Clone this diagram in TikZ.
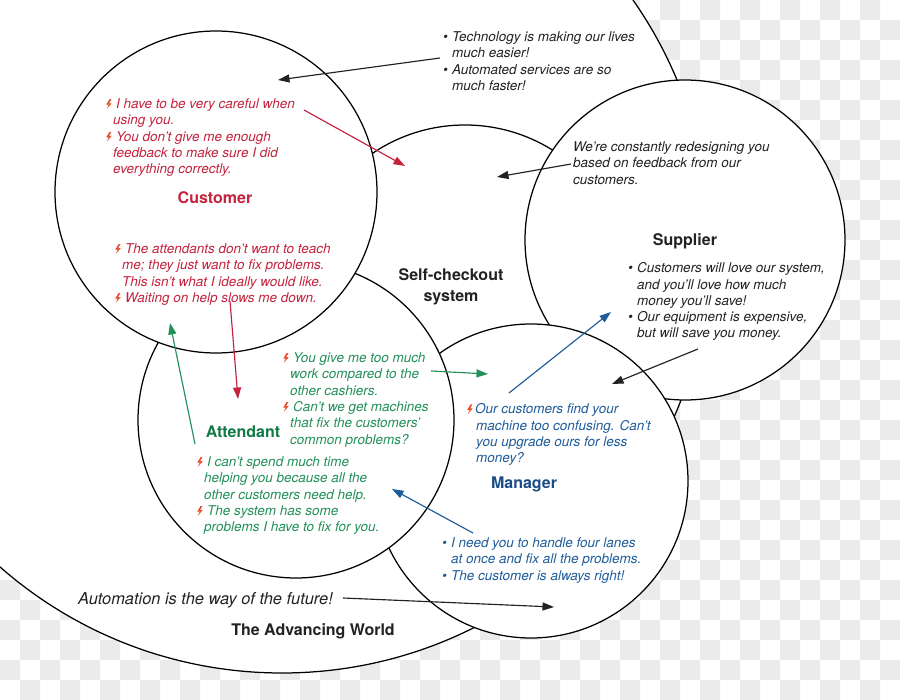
\documentclass[tikz,border=0pt]{standalone}
\usepackage{fontspec}
\setmainfont{TeX Gyre Heros}
\usetikzlibrary{arrows.meta}
\definecolor{custred}{HTML}{C4233D}
\definecolor{attgreen}{HTML}{23905A}
\definecolor{attlbl}{HTML}{117A47}
\definecolor{mgrblue}{HTML}{1F5C9A}
\definecolor{mgrlbl}{HTML}{1C4C87}
\definecolor{ink}{HTML}{222222}
\definecolor{boltcol}{HTML}{EA4E2D}
\definecolor{chk}{HTML}{EBEBEB}
\newcommand{\zapbolt}{\tikz[baseline=0pt,x=1pt,y=1pt]\fill[boltcol] (4.2,9.4) -- (0.8,3.9) -- (3.3,3.9) -- (1.4,-0.4) -- (6.2,5.3) -- (3.7,5.3) -- (6.0,9.4) -- cycle;}
\newcommand{\bz}{\makebox[10pt][l]{\zapbolt}}
\newcommand{\bzt}{\makebox[8pt][l]{\zapbolt}}
\newcommand{\bl}{\makebox[9pt][l]{•}}
\begin{document}
\begin{tikzpicture}[x=1pt,y=-1pt,
  circ/.style={circle, draw=black, fill=white, line width=1.25pt, inner sep=0pt},
  txt/.style={anchor=north west, inner sep=0pt, align=left, font=\fontsize{13.5}{16.3}\selectfont\itshape},
  lbl/.style={anchor=base, inner sep=0pt, font=\fontsize{16}{21}\selectfont\bfseries},
  arr/.style={line width=1.15pt, -{Triangle[length=11.5pt,width=8pt]}}]
\useasboundingbox (0,0) rectangle (900,700);
\fill[white] (0,0) rectangle (900,700);
\fill[chk] \foreach \j in {0,2,...,34} {\foreach \i in {1,3,...,43} {(20*\i,20*\j) rectangle ++(20,20)}};
\fill[chk] \foreach \j in {1,3,...,33} {\foreach \i in {0,2,...,44} {(20*\i,20*\j) rectangle ++(20,20)}};
% circles (back to front)
\node[circ, minimum size=856pt] (world) at (282,245) {};
\node[circ, minimum size=330pt] (self) at (465,290) {};
\node[circ, minimum size=320pt] (supplier) at (685,240) {};
\node[circ, minimum size=314pt] (manager) at (531,481) {};
\node[circ, minimum size=316pt] (attendant) at (296,420) {};
\node[circ, minimum size=322pt] (customer) at (216,192) {};
% labels
\node[lbl, text=custred] (custlbl) at (215,203.5) {Customer};
\node[anchor=north, inner sep=0pt, align=center, font=\fontsize{16}{21}\selectfont\bfseries, text=ink] (selflbl) at (451,268) {Self-checkout\\system};
\node[lbl, text=ink] (supplbl) at (685,245.5) {Supplier};
\node[lbl, text=attlbl] (attlbl) at (243,437.5) {Attendant};
\node[lbl, text=mgrlbl] (mgrlbl) at (524,488.5) {Manager};
\node[lbl, text=ink] (worldlbl) at (313,635.5) {The Advancing World};
% texts
\node[txt, text=ink] (worldbul) at (443,31.5) {\bl Technology is making our lives\\\hspace*{9pt}much easier!\\\bl Automated services are so\\\hspace*{9pt}much faster!};
\node[txt, text=custred] (cust1) at (106,98.5) {\bz I have to be very careful when\\\hspace*{7pt}using you.\\\bz You don't give me enough\\\hspace*{7pt}feedback to make sure I did\\\hspace*{7pt}everything correctly.};
\node[txt, text=custred] (cust2) at (115,243.5) {\bz The attendants don't want to teach\\\hspace*{7pt}me; they just want to fix problems.\\\hspace*{7pt}This isn't what I ideally would like.\\\bz Waiting on help slows me down.};
\node[txt, text=ink] (supp1) at (573,141.5) {We're constantly redesigning you\\based on feedback from our\\customers.};
\node[txt, text=ink] (supp2) at (628,262.5) {\bl Customers will love our system,\\\hspace*{9pt}and you'll love how much\\\hspace*{9pt}money you'll save!\\\bl Our equipment is expensive,\\\hspace*{9pt}but will save you money.};
\node[txt, text=attgreen] (att1) at (283,352.5) {\bz You give me too much\\\hspace*{7pt}work compared to the\\\hspace*{7pt}other cashiers.\\\bz Can't we get machines\\\hspace*{7pt}that fix the customers'\\\hspace*{7pt}common problems?};
\node[txt, text=attgreen] (att2) at (197,456.5) {\bz I can't spend much time\\\hspace*{7pt}helping you because all the\\\hspace*{7pt}other customers need help.\\\bz The system has some\\\hspace*{7pt}problems I have to fix for you.};
\node[txt, text=mgrblue] (mgr1) at (467,403.5) {\bzt Our customers find your\\\hspace*{9pt}machine too confusing. Can't\\\hspace*{9pt}you upgrade ours for less\\\hspace*{9pt}money?};
\node[txt, text=mgrblue] (mgr2) at (442,537.5) {\bl I need you to handle four lanes\\\hspace*{9pt}at once and fix all the problems.\\\bl The customer is always right!};
\node[anchor=base west, inner sep=0pt, font=\fontsize{16.4}{20}\selectfont\itshape, text=ink] (worldtxt) at (78,604.5) {Automation is the way of the future!};
% arrow end points
\coordinate (a1s) at (440,58);  \coordinate (a1e) at (278,80);
\coordinate (a2s) at (304,110); \coordinate (a2e) at (405,166);
\coordinate (a3s) at (571,164); \coordinate (a3e) at (497,177);
\coordinate (a4s) at (230,301); \coordinate (a4e) at (238,399);
\coordinate (a5s) at (195,444); \coordinate (a5e) at (170,323);
\coordinate (a6s) at (431,371); \coordinate (a6e) at (488,374);
\coordinate (a7s) at (509,393); \coordinate (a7e) at (611,312);
\coordinate (a8s) at (698,349); \coordinate (a8e) at (612,384);
\coordinate (a9s) at (473,533); \coordinate (a9e) at (392,489);
\coordinate (a10s) at (343,598); \coordinate (a10e) at (554,607);
\draw[arr, ink] (a1s) -- (a1e);
\draw[arr, custred] (a2s) -- (a2e);
\draw[arr, ink] (a3s) -- (a3e);
\draw[arr, custred] (a4s) -- (a4e);
\draw[arr, attgreen] (a5s) -- (a5e);
\draw[arr, attgreen] (a6s) -- (a6e);
\draw[arr, mgrblue] (a7s) -- (a7e);
\draw[arr, ink] (a8s) -- (a8e);
\draw[arr, mgrblue] (a9s) -- (a9e);
\draw[arr, ink] (a10s) -- (a10e);
\end{tikzpicture}
\end{document}
